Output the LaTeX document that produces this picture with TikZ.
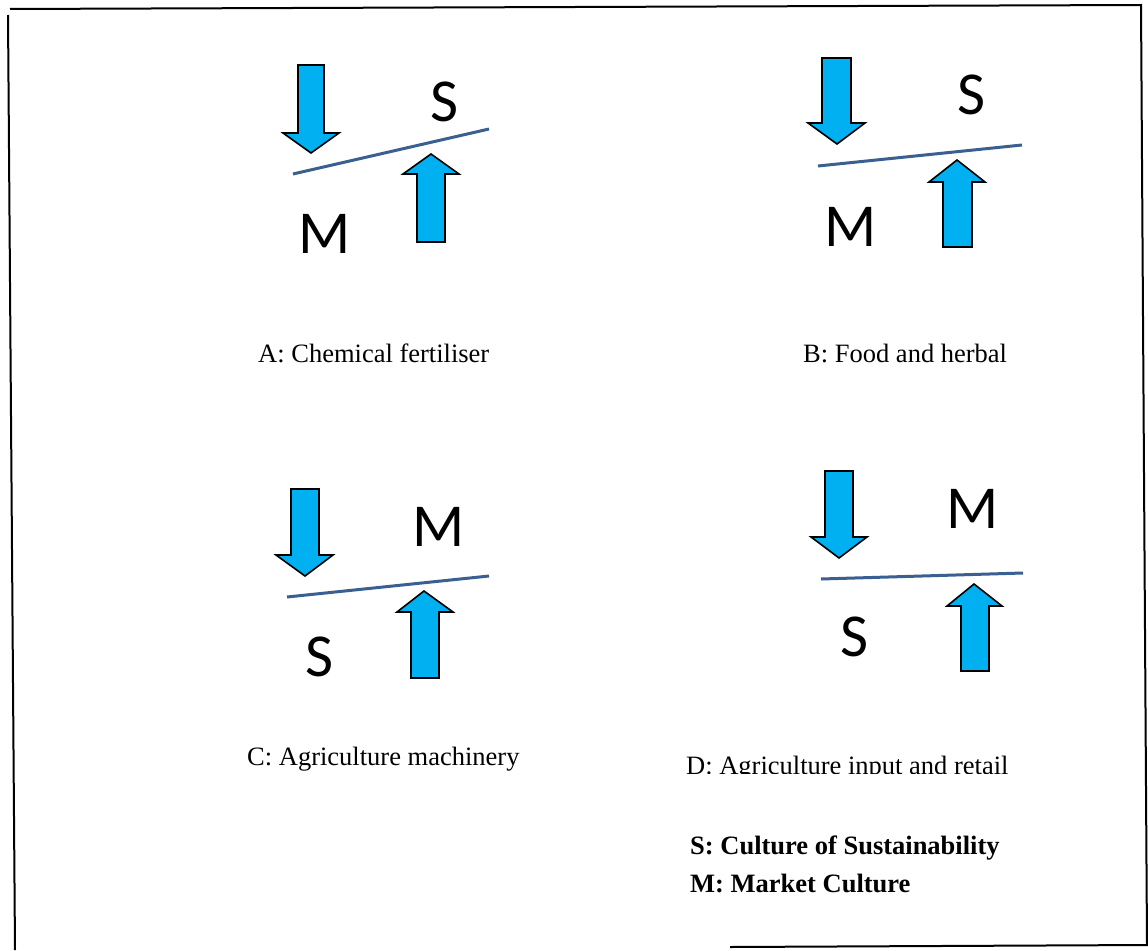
\documentclass[tikz,border=0pt]{standalone}
\usepackage{fontspec}
\setmainfont{Liberation Serif}
\newfontfamily\calibrisub{Carlito}
\definecolor{arrowblue}{RGB}{0,176,240}
\definecolor{barblue}{RGB}{58,95,145}
\begin{document}
\begin{tikzpicture}[x=1pt,y=-1pt,
  blockarrow/.style={fill=arrowblue,draw=black,line width=1.6pt,line join=miter},
  balance/.style={draw=barblue,line width=3pt},
  culture/.style={font=\calibrisub\fontsize{61}{61}\selectfont,inner sep=0pt,anchor=base},
  caption/.style={font=\fontsize{26.5}{30}\selectfont,inner sep=0pt,anchor=base west},
  legend/.style={font=\bfseries\fontsize{26.5}{30}\selectfont,inner sep=0pt,anchor=base west},
  frameline/.style={draw=black,line width=2pt}]
\useasboundingbox (0,0) rectangle (1148,950);
\fill[white] (0,0) rectangle (1148,950);

% page frame, slightly tilted
\coordinate (ftl) at (10,9);
\coordinate (ftr) at (1141,5);
\coordinate (fbr) at (1147,945);
\coordinate (flt) at (8,15);
\coordinate (flb) at (15,950);
\coordinate (fbl) at (730,947);
\draw[frameline] (ftl) -- (ftr) -- (fbr);
\draw[frameline] (flt) -- (flb);
\draw[frameline] (fbl) -- (1148,945);

% ---- A: Chemical fertiliser ----
\draw[blockarrow] (298,65) -- (324,65) -- (324,133) -- (339,133) -- (311,153) -- (283,133) -- (298,133) -- cycle;
\draw[blockarrow] (417,242) -- (445,242) -- (445,174) -- (459,174) -- (431,154) -- (403,174) -- (417,174) -- cycle;
\coordinate (a1) at (293,174);
\coordinate (a2) at (489,129);
\draw[balance] (a1) -- (a2);
\node[culture] (aS) at (445,121) {S};
\node[culture] (aM) at (325,253) {M};
\node[caption] (aCap) at (258,362) {A: Chemical fertiliser};

% ---- B: Food and herbal ----
\draw[blockarrow] (822,58) -- (851,58) -- (851,123) -- (865,123) -- (837,144) -- (808,123) -- (822,123) -- cycle;
\draw[blockarrow] (943,247) -- (972,247) -- (972,182) -- (985,182) -- (957,160) -- (929,182) -- (943,182) -- cycle;
\coordinate (b1) at (818,166);
\coordinate (b2) at (1022,145);
\draw[balance] (b1) -- (b2);
\node[culture] (bS) at (972,114) {S};
\node[culture] (bM) at (851,246) {M};
\node[caption] (bCap) at (803,362) {B: Food and herbal};

% ---- C: Agriculture machinery ----
\draw[blockarrow] (291,489) -- (319,489) -- (319,555) -- (333,555) -- (305,576) -- (276,555) -- (291,555) -- cycle;
\draw[blockarrow] (411,678) -- (439,678) -- (439,612) -- (453,612) -- (424,591) -- (397,612) -- (411,612) -- cycle;
\coordinate (c1) at (287,597);
\coordinate (c2) at (489,576);
\draw[balance] (c1) -- (c2);
\node[culture] (cM) at (439,546) {M};
\node[culture] (cS) at (320,676) {S};
\node[caption] (cCap) at (247,765) {C: Agriculture machinery};

% ---- D: Agriculture input and retail ----
\draw[blockarrow] (825,471) -- (853,471) -- (853,537) -- (867,537) -- (839,558) -- (811,537) -- (825,537) -- cycle;
\draw[blockarrow] (961,671) -- (989,671) -- (989,606) -- (1002,606) -- (974,584) -- (947,606) -- (961,606) -- cycle;
\coordinate (d1) at (821,579);
\coordinate (d2) at (1023,573);
\draw[balance] (d1) -- (d2);
\node[culture] (dM) at (973,528) {M};
\node[culture] (dS) at (855,656) {S};
\begin{scope}
  \clip (600,700) rectangle (1100,773);
  \node[caption] (dCap) at (686,774) {D: Agriculture input and retail};
\end{scope}

% ---- legend ----
\node[legend] (legS) at (690,854) {S: Culture of Sustainability};
\node[legend] (legM) at (690,892) {M: Market Culture};
\end{tikzpicture}
\end{document}
